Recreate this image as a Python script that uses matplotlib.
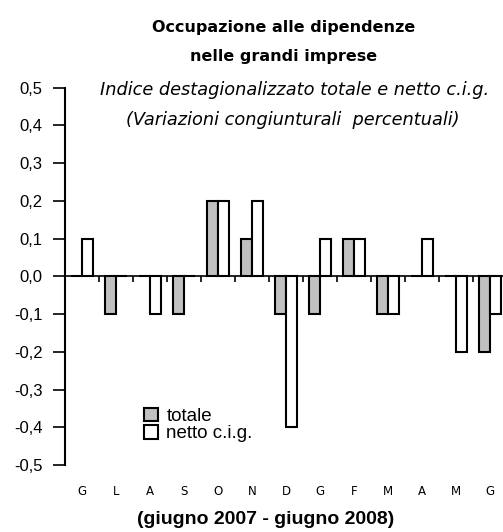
import numpy as np
import matplotlib.pyplot as plt
from matplotlib.ticker import FuncFormatter

months = ["G", "L", "A", "S", "O", "N", "D", "G", "F", "M", "A", "M", "G"]
totale = [0.0, -0.1, 0.0, -0.1, 0.2, 0.1, -0.1, -0.1, 0.1, -0.1, 0.0, 0.0, -0.2]
netto = [0.1, 0.0, -0.1, 0.0, 0.2, 0.2, -0.4, 0.1, 0.1, -0.1, 0.1, -0.2, -0.1]

NARROW = ["Liberation Sans Narrow", "DejaVu Sans"]
ARIAL = ["Liberation Sans", "DejaVu Sans"]

fig = plt.figure(figsize=(5.03, 5.32), dpi=100)
ax = fig.add_axes([0.129, 0.126, 0.871, 0.709])

x = np.arange(len(months))
w = 0.33
ax.bar(x - w / 2, totale, w, color="#c0c0c0", edgecolor="black", linewidth=1.5,
       label="totale", zorder=3)
ax.bar(x + w / 2, netto, w, color="white", edgecolor="black", linewidth=1.5,
       label="netto c.i.g.", zorder=3)

ax.set_xlim(-0.5, 12.38)
ax.set_ylim(-0.5, 0.5)

# spines
for s in ["top", "right"]:
    ax.spines[s].set_visible(False)
ax.spines["left"].set_linewidth(1.5)
ax.spines["bottom"].set_position(("data", 0))
ax.spines["bottom"].set_linewidth(1.2)
ax.spines["bottom"].set_zorder(4)

# y axis
ax.set_yticks(np.linspace(-0.5, 0.5, 11))
ax.yaxis.set_major_formatter(FuncFormatter(lambda v, p: f"{v:.1f}".replace(".", ",")))
ax.tick_params(axis="y", direction="out", length=9, width=1.2, pad=7,
               labelsize=12)
for t in ax.get_yticklabels():
    t.set_family(ARIAL)

# x ticks at category boundaries, no labels
ax.set_xticks(np.arange(0.5, 12.5, 1))
ax.tick_params(axis="x", direction="out", length=4, width=1.2, labelbottom=False)

# month labels below the plot
sec = ax.secondary_xaxis(-0.045)
sec.set_xticks(x, months)
sec.tick_params(length=0, pad=2, labelsize=8.5)
sec.spines["bottom"].set_visible(False)
for t in sec.get_xticklabels():
    t.set_family(NARROW)

leg = ax.legend(loc="upper left", bbox_to_anchor=(0.163, 0.172), frameon=False,
                handlelength=0.75, handleheight=0.75, handletextpad=0.45,
                labelspacing=0.0, borderaxespad=0, prop={"family": ARIAL, "size": 13.5})

fig.text(0.563, 0.949, "Occupazione alle dipendenze", ha="center", va="center",
         fontsize=11.5, fontweight="bold", family=NARROW)
fig.text(0.563, 0.893, "nelle grandi imprese", ha="center", va="center",
         fontsize=11.5, fontweight="bold", family=NARROW)
fig.text(0.586, 0.831, "Indice destagionalizzato totale e netto c.i.g.",
         ha="center", va="center", fontsize=12.8, style="italic", family=NARROW)
fig.text(0.583, 0.774, "(Variazioni congiunturali  percentuali)",
         ha="center", va="center", fontsize=12.8, style="italic", family=NARROW)
fig.text(0.529, 0.024, "(giugno 2007 - giugno 2008)", ha="center", va="center",
         fontsize=14, fontweight="bold", family=ARIAL)

fig.savefig("out.png", dpi=100)
